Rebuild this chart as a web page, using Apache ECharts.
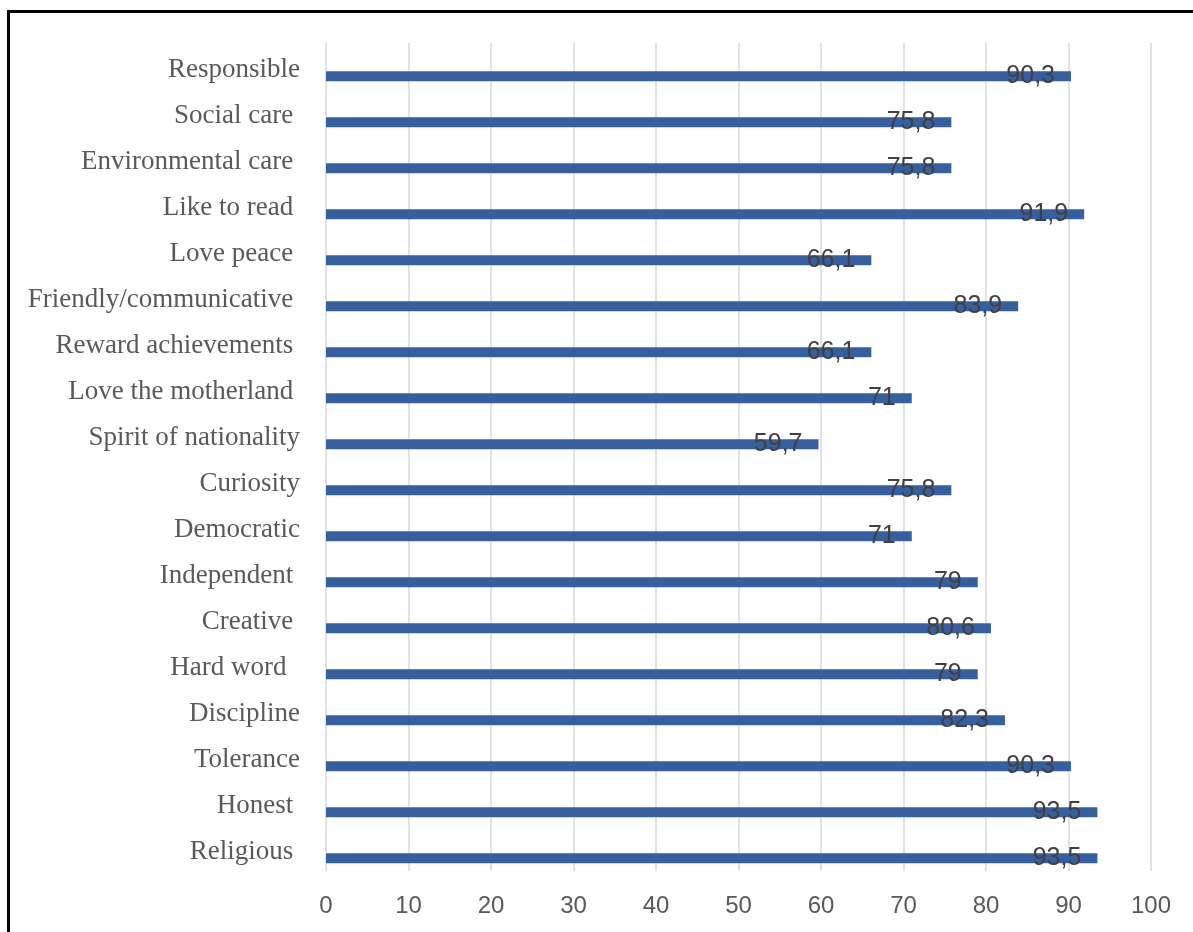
<!DOCTYPE html>
<html>
<head>
<meta charset="utf-8">
<script src="https://cdn.jsdelivr.net/npm/echarts@6/dist/echarts.min.js"></script>
<style>
html,body{margin:0;padding:0;background:#fff;}
#chart{width:1193px;height:932px;}
</style>
</head>
<body>
<div id="chart"></div>
<script>
const categories = ['Religious ', 'Honest ', 'Tolerance', 'Discipline', 'Hard word  ', 'Creative ', 'Independent ', 'Democratic', 'Curiosity', 'Spirit of nationality', 'Love the motherland ', 'Reward achievements ', 'Friendly/communicative ', 'Love peace ', 'Like to read ', 'Environmental care ', 'Social care ', 'Responsible'];
const values = [93.5, 93.5, 90.3, 82.3, 79, 80.6, 79, 71, 75.8, 59.7, 71, 66.1, 83.9, 66.1, 91.9, 75.8, 75.8, 90.3];
const xTicks = [0, 10, 20, 30, 40, 50, 60, 70, 80, 90, 100];

const chart = echarts.init(document.getElementById('chart'), null, {renderer: 'canvas'});
chart.setOption({
  animation: false,
  backgroundColor: '#ffffff',
  graphic: [{
    type: 'rect',
    shape: {x: 8.5, y: 11.5, width: 1400, height: 1200},
    style: {fill: 'none', stroke: '#000000', lineWidth: 3},
    silent: true
  }],
  grid: {left: 326, right: 42, top: 43, bottom: 61, containLabel: false},
  xAxis: {
    type: 'value',
    min: xTicks[0],
    max: xTicks[xTicks.length - 1],
    interval: 10,
    axisLine: {show: false},
    axisTick: {show: false},
    splitLine: {show: true, lineStyle: {color: '#d9d9d9', width: 1.5}},
    axisLabel: {
      color: '#595959',
      fontFamily: 'Liberation Sans',
      fontSize: 24,
      margin: 23
    }
  },
  yAxis: {
    type: 'category',
    data: categories,
    axisLine: {show: false},
    axisTick: {show: false},
    splitLine: {show: false},
    axisLabel: {
      color: '#595959',
      fontFamily: 'Liberation Serif',
      fontSize: 27,
      margin: 26,
      interval: 0,
      formatter: v => '{a|' + v + '}',
      rich: {
        a: {
          color: '#595959',
          fontFamily: 'Liberation Serif',
          fontSize: 27,
          padding: [8, 0, 0, 0]
        }
      }
    }
  },
  series: [
    {
      type: 'bar',
      name: 'gap',
      data: [],
      barWidth: 10,
      barGap: '106%'
    },
    {
      type: 'bar',
      name: 'Values',
      data: values,
      barWidth: 10,
      barGap: '106%',
      itemStyle: {color: '#365FA0'},
      label: {
        show: true,
        position: 'insideRight',
        distance: 16,
        offset: [0, 0],
        color: '#404040',
        fontFamily: 'Liberation Sans',
        fontSize: 25,
        formatter: p => String(p.value).replace('.', ',')
      }
    }
  ]
});
</script>
</body>
</html>
